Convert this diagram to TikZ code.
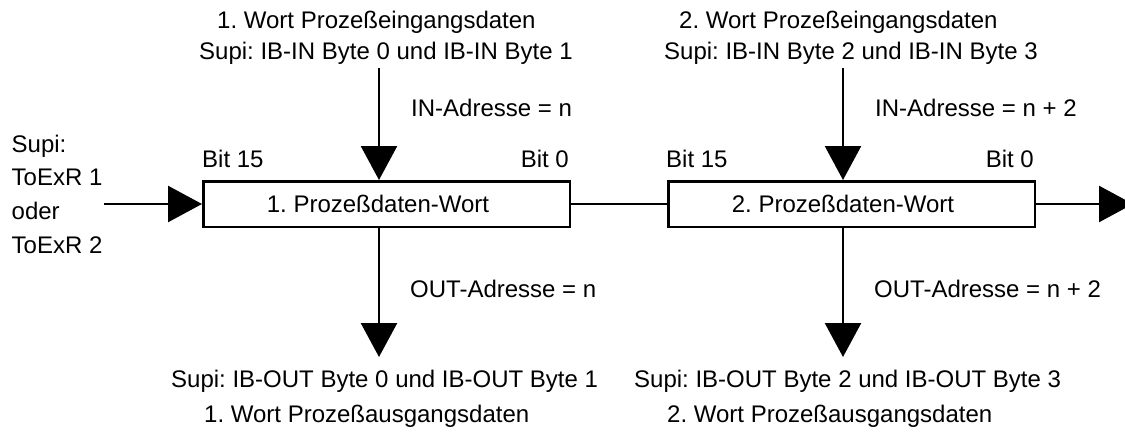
\documentclass[tikz,border=0pt]{standalone}
\usepackage{fontspec}
\setmainfont{Liberation Sans}
\usetikzlibrary{arrows.meta}
\frenchspacing
\newcommand{\lbfont}{\fontsize{24pt}{28pt}\selectfont}
\tikzset{
  lbl/.style={inner sep=0pt, font=\lbfont},
  wordbox/.style={draw, line width=2.5pt, inner sep=0pt,
    minimum width=366.5pt, minimum height=45.5pt, font=\lbfont},
  wire/.style={line width=2.5pt},
  flow/.style={line width=2.5pt, -{Triangle[length=34pt,width=36pt]}},
}
\begin{document}
\begin{tikzpicture}[x=1pt, y=-1pt]
\clip (0,0) rectangle (1125,436);
\fill[white] (0,0) rectangle (1125,436);

% the two process data words
\node[wordbox] (w1) at (386.5,204) {1. Prozeßdaten-Wort\hspace*{17pt}};
\node[wordbox] (w2) at (851.5,204) {2. Prozeßdaten-Wort\hspace*{17pt}};

% free ends of the connectors
\coordinate (in1) at (379,68);
\coordinate (out1) at (379,357);
\coordinate (in2) at (843,68);
\coordinate (out2) at (843,357);
\coordinate (src) at (104,204);
\coordinate (snk) at (1133,204);

% serial chain through both words
\draw[flow] (src) -- (w1.west);
\draw[wire] (w1.east) -- (w2.west);
\draw[flow] (w2.east) -- (snk);

% input and output data paths
\draw[flow] (in1) -- (in1 |- w1.north);
\draw[flow] (out1 |- w1.south) -- (out1);
\draw[flow] (in2) -- (in2 |- w2.north);
\draw[flow] (out2 |- w2.south) -- (out2);

% bit numbering
\node[lbl, anchor=base west] (b15a) at (202,167.5) {Bit 15};
\node[lbl, anchor=base east] (b0a) at (569,167.5) {Bit 0};
\node[lbl, anchor=base west] (b15b) at (666,167.5) {Bit 15};
\node[lbl, anchor=base east] (b0b) at (1034,167.5) {Bit 0};

% source of the chain
\node[lbl, anchor=base west] (src1) at (11.5,152) {Supi:};
\node[lbl, anchor=base west] (src2) at (11.5,185.5) {ToExR 1};
\node[lbl, anchor=base west] (src3) at (11.5,219) {oder};
\node[lbl, anchor=base west] (src4) at (11.5,253) {ToExR 2};

% input side, word 1 and word 2
\node[lbl, anchor=base west] (ti1) at (217,28.3) {1. Wort Prozeßeingangsdaten};
\node[lbl, anchor=base west] (ts1) at (199,59.3) {Supi: IB-IN Byte 0 und IB-IN Byte 1};
\node[lbl, anchor=base west] (ti2) at (679,28.3) {2. Wort Prozeßeingangsdaten};
\node[lbl, anchor=base west] (ts2) at (664,59.3) {Supi: IB-IN Byte 2 und IB-IN Byte 3};
\node[lbl, anchor=base west] (ia1) at (411,117) {IN-Adresse = n};
\node[lbl, anchor=base west] (ia2) at (875,117) {IN-Adresse = n + 2};

% output side, word 1 and word 2
\node[lbl, anchor=base west] (oa1) at (410,297.5) {OUT-Adresse = n};
\node[lbl, anchor=base west] (oa2) at (874,297.5) {OUT-Adresse = n + 2};
\node[lbl, anchor=base west] (bs1) at (171,387.5) {Supi: IB-OUT Byte 0 und IB-OUT Byte 1};
\node[lbl, anchor=base west] (bo1) at (204,422.5) {1. Wort Prozeßausgangsdaten};
\node[lbl, anchor=base west] (bs2) at (634,387.5) {Supi: IB-OUT Byte 2 und IB-OUT Byte 3};
\node[lbl, anchor=base west] (bo2) at (667,422.5) {2. Wort Prozeßausgangsdaten};
\end{tikzpicture}
\end{document}
